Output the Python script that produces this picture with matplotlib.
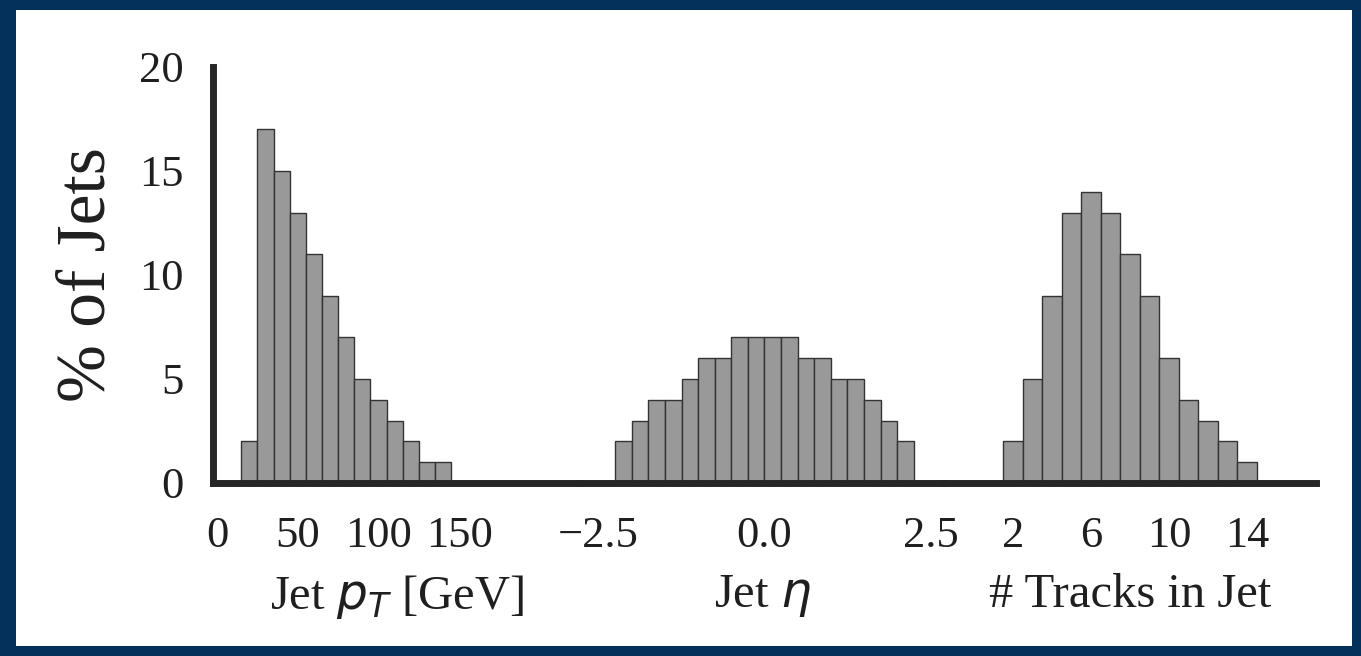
import numpy as np
import matplotlib
matplotlib.use("Agg")
import matplotlib.pyplot as plt
from matplotlib.patches import Rectangle

plt.rcParams['font.family'] = ['Liberation Serif', 'DejaVu Sans']
plt.rcParams['mathtext.fontset'] = 'dejavusans'

# histogram data (% of jets per bin)
pt_edges = np.arange(15, 150, 10)          # GeV
pt_pct = [2, 17, 15, 13, 11, 9, 7, 5, 4, 3, 2, 1, 1]

eta_edges = np.arange(-2.25, 2.26, 0.25)
eta_pct = [2, 3, 4, 4, 5, 6, 6, 7, 7, 7, 7, 6, 6, 5, 5, 4, 3, 2]

trk_n = np.arange(2, 15)
trk_pct = [2, 5, 9, 13, 14, 13, 11, 9, 6, 4, 3, 2, 1]

pt_ticks = [0, 50, 100, 150]
eta_ticks = [-2.5, 0.0, 2.5]
trk_ticks = [2, 6, 10, 14]
y_ticks = [0, 5, 10, 15, 20]

W, H = 1361, 656
fig = plt.figure(figsize=(W / 100, H / 100), dpi=100)
fig.patch.set_facecolor('#04315c')
fig.add_artist(Rectangle((16 / W, 10 / H), (1352 - 16) / W, (646 - 10) / H,
                         transform=fig.transFigure, facecolor='white',
                         edgecolor='none', zorder=0))

def px_axes(x0, x1, ytop=67, ybot=483):
    return fig.add_axes([x0 / W, 1 - ybot / H, (x1 - x0) / W, (ybot - ytop) / H])

ax1 = px_axes(213, 580)
ax2 = px_axes(580, 945)
ax3 = px_axes(945, 1316)

bar_kw = dict(align='edge', color='#999999', edgecolor='#333333', linewidth=1.0)
ax1.bar(pt_edges[:-1], pt_pct, width=np.diff(pt_edges), **bar_kw)
ax2.bar(eta_edges[:-1], eta_pct, width=np.diff(eta_edges), **bar_kw)
ax3.bar(trk_n - 0.5, trk_pct, width=1.0, **bar_kw)

ax1.set_xlim(-2.5, 224.7)
ax2.set_xlim(-2.78, 2.72)
ax3.set_xlim(-1.49, 17.54)

ax1.set_xticks(pt_ticks)
ax2.set_xticks(eta_ticks)
ax2.set_xticklabels(['\u22122.5', '0.0', '2.5'])
ax3.set_xticks(trk_ticks)

ink = '#1f1f1f'
for ax in (ax1, ax2, ax3):
    ax.set_ylim(0, 20)
    ax.patch.set_alpha(0)
    for s in ('top', 'right', 'left'):
        ax.spines[s].set_visible(False)
    ax.spines['bottom'].set_linewidth(5)
    ax.spines['bottom'].set_color('#262626')
    ax.tick_params(axis='x', length=0, pad=24, labelsize=32, colors=ink)
    ax.set_yticks([])

ax1.spines['left'].set_visible(True)
ax1.spines['left'].set_linewidth(5)
ax1.spines['left'].set_color('#262626')
ax1.set_yticks(y_ticks)
ax1.tick_params(axis='y', length=0, pad=21, labelsize=32, colors=ink)

ax1.set_ylabel('% of Jets', fontsize=50, color=ink)
ax1.yaxis.set_label_coords(-0.255, 0.5)

ax1.set_xlabel('Jet $p_T$ [GeV]', fontsize=35, color=ink, labelpad=12)
ax2.set_xlabel('Jet $\\eta$', fontsize=35, color=ink, labelpad=12)
ax3.set_xlabel('# Tracks in Jet', fontsize=35, color=ink, labelpad=12)

fig.savefig('out.png', dpi=100, facecolor=fig.get_facecolor())
